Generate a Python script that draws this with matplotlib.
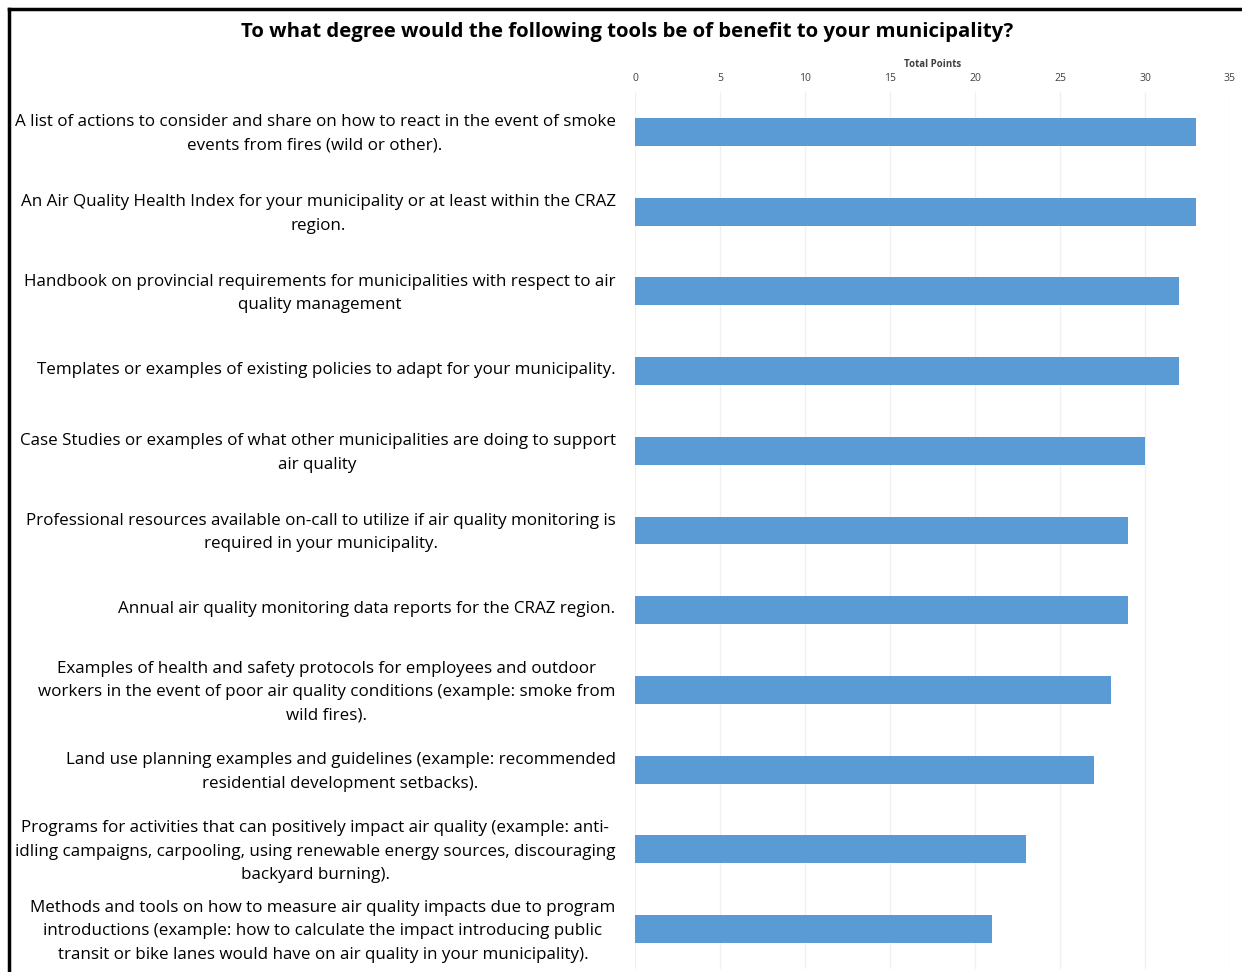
import matplotlib
matplotlib.use("Agg")
import matplotlib.pyplot as plt
from matplotlib.lines import Line2D
from matplotlib.transforms import ScaledTranslation

categories = [
    "A list of actions to consider and share on how to react in the event of smoke\nevents from fires (wild or other).",
    "An Air Quality Health Index for your municipality or at least within the CRAZ\nregion.",
    "Handbook on provincial requirements for municipalities with respect to air\nquality management",
    "Templates or examples of existing policies to adapt for your municipality.",
    "Case Studies or examples of what other municipalities are doing to support\nair quality",
    "Professional resources available on-call to utilize if air quality monitoring is\nrequired in your municipality.",
    "Annual air quality monitoring data reports for the CRAZ region.",
    "Examples of health and safety protocols for employees and outdoor\nworkers in the event of poor air quality conditions (example: smoke from\nwild fires).",
    "Land use planning examples and guidelines (example: recommended\nresidential development setbacks).",
    "Programs for activities that can positively impact air quality (example: anti-\nidling campaigns, carpooling, using renewable energy sources, discouraging\nbackyard burning).",
    "Methods and tools on how to measure air quality impacts due to program\nintroductions (example: how to calculate the impact introducing public\ntransit or bike lanes would have on air quality in your municipality).",
]
values = [33, 33, 32, 32, 30, 29, 29, 28, 27, 23, 21]
xticks = [0, 5, 10, 15, 20, 25, 30, 35]

plt.rcParams['font.family'] = ['Open Sans', 'DejaVu Sans']

fig = plt.figure(figsize=(12.42, 9.72), dpi=100)
ax = fig.add_axes([635/1242, 1-969/972, (1230-635)/1242, (969-92)/972])

y = list(range(len(categories)))
ax.barh(y, values, height=0.35, color='#5B9BD5', zorder=3)
ax.set_ylim(len(categories)-0.5, -0.5)
ax.set_xlim(0, 35)
ax.set_xticks(xticks)
ax.xaxis.tick_top()
ax.xaxis.set_label_position('top')
ax.tick_params(axis='x', length=0, labelsize=7.5, pad=6, labelcolor='#404040')
ax.set_xlabel('Total Points', fontsize=7, fontweight='bold', labelpad=4, color='#404040')
ax.set_yticks(y)
ax.set_yticklabels(categories, fontsize=12.25, multialignment='center', linespacing=1.62)
ax.tick_params(axis='y', length=0, pad=14)
shift = ScaledTranslation(0, 3.5/100, fig.dpi_scale_trans)
for lab in ax.get_yticklabels():
    lab.set_transform(lab.get_transform() + shift)
ax.grid(axis='x', color='#F0F0F0', linewidth=1, zorder=0)
for s in ax.spines.values():
    s.set_visible(False)

fig.text(627/1242, 1-32/972, 'To what degree would the following tools be of benefit to your municipality?',
         ha='center', va='center', fontsize=14.7, fontweight='bold')

fig.add_artist(Line2D([9/1242, 9/1242], [0, 1-9/972], color='black', linewidth=2.5, transform=fig.transFigure))
fig.add_artist(Line2D([9/1242, 1], [1-9/972, 1-9/972], color='black', linewidth=2.5, transform=fig.transFigure))

fig.savefig('out.png', dpi=100)
